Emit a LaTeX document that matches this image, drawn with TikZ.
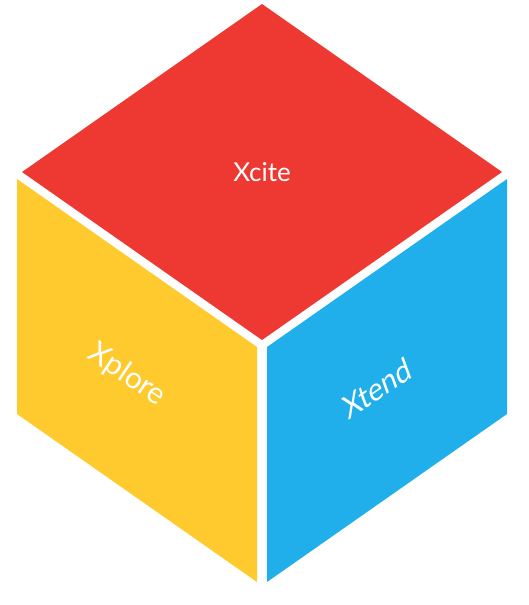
\documentclass[tikz,border=0pt]{standalone}
\usepackage{fontspec}
\setmainfont{Lato}
\definecolor{cred}{RGB}{238,56,50}
\definecolor{cyel}{RGB}{254,202,46}
\definecolor{cblue}{RGB}{32,175,234}
\begin{document}
\begin{tikzpicture}[x=1pt,y=-1pt,
  facelbl/.style={text=white,font=\fontsize{26}{30}\selectfont,inner sep=0pt},
  sidelbl/.style={facelbl,font=\fontsize{30}{34}\selectfont}]
\useasboundingbox (0,0) rectangle (528,605);
\fill[cred] (262,4) -- (502,172) -- (262,340) -- (22,172) -- cycle;
\fill[cyel] (17,179) -- (257,347) -- (257,582) -- (17,414) -- cycle;
\fill[cblue] (267,347) -- (507,179) -- (507,414) -- (267,582) -- cycle;
\node[facelbl] (top) at (262,172) {Xcite};
\node[sidelbl,rotate=-34] (left) at (127,375) {Xplore};
\node[sidelbl,rotate=34,xslant=0.25] (right) at (377,388) {Xtend};
\end{tikzpicture}
\end{document}
